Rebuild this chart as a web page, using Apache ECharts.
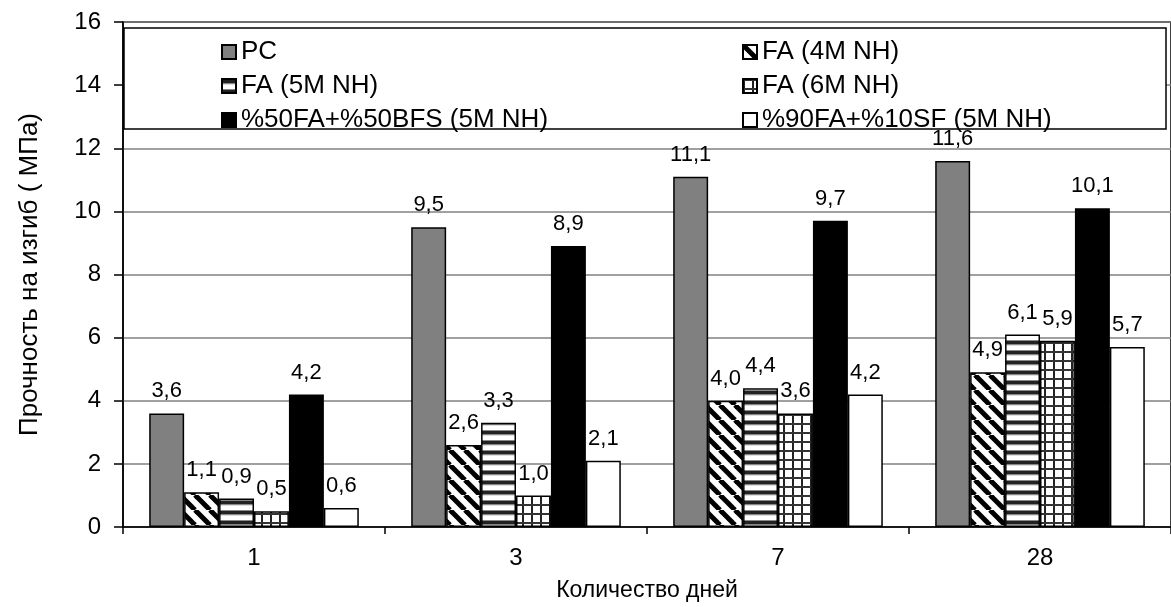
<!DOCTYPE html>
<html>
<head>
<meta charset="utf-8">
<script src="https://cdn.jsdelivr.net/npm/echarts@6/dist/echarts.min.js"></script>
<style>html,body{margin:0;padding:0;background:#fff;}#c{width:1171px;height:607px;}</style>
</head>
<body>
<div id="c"></div>
<script>
const categories = ['1', '3', '7', '28'];
const seriesNames = ['PC', 'FA (4M NH)', 'FA (5M NH)', 'FA (6M NH)', '%50FA+%50BFS (5M NH)', '%90FA+%10SF (5M NH)'];
const pc  = [3.6, 9.5, 11.1, 11.6];
const fa4 = [1.1, 2.6, 4.0, 4.9];
const fa5 = [0.9, 3.3, 4.4, 6.1];
const fa6 = [0.5, 1.0, 3.6, 5.9];
const bfs = [4.2, 8.9, 9.7, 10.1];
const sf  = [0.6, 2.1, 4.2, 5.7];
const yMin = 0, yMax = 16, yStep = 2;
const xTitle = 'Количество дней';
const yTitle = 'Прочность на изгиб ( МПа)';

const FONT = 'Liberation Sans, Arial, sans-serif';

function tile(w, h, draw) {
  const c = document.createElement('canvas');
  c.width = w; c.height = h;
  const g = c.getContext('2d');
  g.fillStyle = '#fff'; g.fillRect(0, 0, w, h);
  draw(g, w, h);
  return { image: c, repeat: 'repeat' };
}
const diagPattern = tile(15, 15, (g, w, h) => {
  g.strokeStyle = '#000'; g.lineWidth = 5;
  for (let k = -1; k <= 1; k++) {
    g.beginPath(); g.moveTo(k * w, 0); g.lineTo(k * w + w, h); g.stroke();
  }
});
const hStripePattern = tile(10, 10, (g) => {
  g.fillStyle = '#888'; g.fillRect(0, 0, 10, 1);
  g.fillStyle = '#222'; g.fillRect(0, 1, 10, 3);
  g.fillStyle = '#888'; g.fillRect(0, 4, 10, 1);
  g.fillStyle = '#ddd'; g.fillRect(0, 5, 10, 1);
});
const gridPattern = tile(9, 9, (g) => {
  g.fillStyle = '#222'; g.fillRect(0, 0, 2, 9);
  g.fillStyle = '#333'; g.fillRect(0, 0, 9, 2);
});

const fills = ['#808080', diagPattern, hStripePattern, gridPattern, '#000000', '#ffffff'];
const values = [pc, fa4, fa5, fa6, bfs, sf];

const series = seriesNames.map((name, i) => ({
  name: name,
  type: 'bar',
  data: values[i],
  barGap: '0%',
  barCategoryGap: '20%',
  itemStyle: { color: fills[i], borderColor: '#000', borderWidth: 1.5 },
  label: {
    show: true, position: 'top', distance: 11,
    color: '#000', fontSize: 22, fontFamily: FONT,
    formatter: p => p.value.toFixed(1).replace('.', ',')
  }
}));

const legendText = { fontSize: 26, fontFamily: FONT, color: '#000', lineHeight: 26 };

const chart = echarts.init(document.getElementById('c'), null, { renderer: 'canvas' });
chart.setOption({
  animation: false,
  backgroundColor: '#fff',
  textStyle: { fontFamily: FONT, color: '#000' },
  grid: { left: 123, top: 22, bottom: 73, right: -13, show: true, borderColor: '#000', borderWidth: 1.5, backgroundColor: 'transparent' },
  graphic: [{
    type: 'rect', z: 3,
    shape: { x: 124, y: 28, width: 1042, height: 101 },
    style: { fill: '#fff', stroke: '#000', lineWidth: 1.5 }
  }],
  legend: [
    { data: [seriesNames[0], seriesNames[2], seriesNames[4]], orient: 'vertical', left: 216, top: 34, itemWidth: 14, itemHeight: 14, itemGap: 8, z: 5,
      textStyle: legendText, icon: 'rect' },
    { data: [seriesNames[1], seriesNames[3], seriesNames[5]], orient: 'vertical', left: 737, top: 34, itemWidth: 14, itemHeight: 14, itemGap: 8, z: 5,
      textStyle: legendText, icon: 'rect' }
  ],
  xAxis: {
    type: 'category', data: categories,
    name: xTitle, nameLocation: 'middle', nameGap: 52,
    nameTextStyle: { fontSize: 23, fontFamily: FONT, color: '#000' },
    axisLine: { show: true, lineStyle: { color: '#000', width: 1.5 } },
    axisTick: { show: true, length: 7, alignWithLabel: false, lineStyle: { color: '#000', width: 1.5 } },
    axisLabel: { fontSize: 24, color: '#000', fontFamily: FONT, margin: 19 },
    splitLine: { show: false }
  },
  yAxis: {
    type: 'value', min: yMin, max: yMax, interval: yStep,
    name: yTitle, nameLocation: 'middle', nameGap: 80, nameRotate: 90,
    nameTextStyle: { fontSize: 26, fontFamily: FONT, color: '#000' },
    axisLine: { show: true, lineStyle: { color: '#000', width: 1.5 } },
    axisTick: { show: true, length: 9, inside: false, lineStyle: { color: '#000', width: 1.5 } },
    axisLabel: { fontSize: 24, color: '#000', fontFamily: FONT, margin: 22 },
    splitLine: { show: true, lineStyle: { color: '#808080', width: 1.5 } }
  },
  series: series
});
</script>
</body>
</html>
